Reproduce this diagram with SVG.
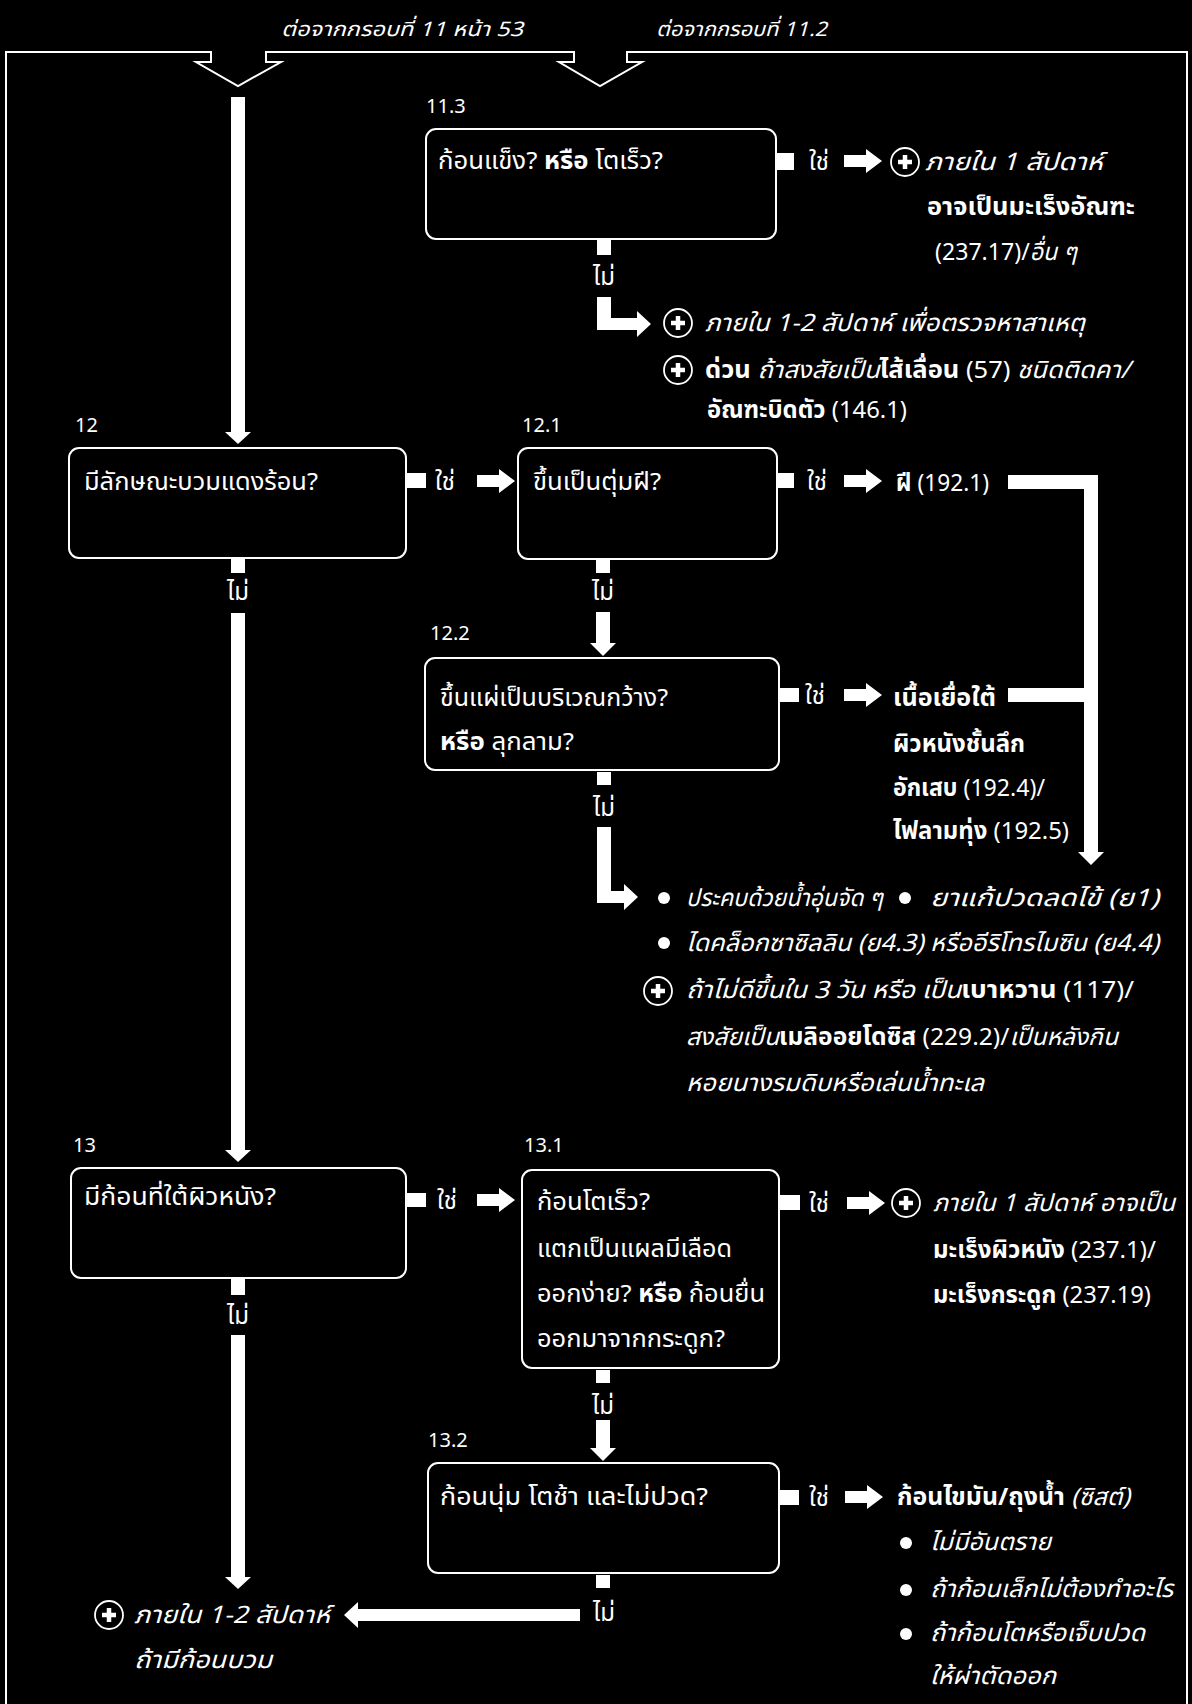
<svg xmlns="http://www.w3.org/2000/svg" xmlns:xlink="http://www.w3.org/1999/xlink" width="1192" height="1704" viewBox="0 0 1192 1704">
  <style>
    text { fill: #fff; font-family: "Noto Sans Thai", "Noto Sans", "DejaVu Sans", sans-serif; font-size: 24px; }
    .hdr { font-size: 20px; font-style: italic; }
    .num { font-size: 20px; }
    .q { font-size: 24px; }
    .o { font-size: 24px; }
    .lbl { font-size: 24px; }
    .i { font-style: italic; }
    .b { font-weight: bold; }
    .no { font-size: 24px; text-anchor: middle; }
    .box { fill: #000; stroke: #fff; stroke-width: 2; }
    .wire { fill: #fff; stroke: none; }
    .frame { fill: none; stroke: #fff; stroke-width: 2; }
  </style>
  <defs>
    <!-- circled plus used for "see a health worker" notes -->
    <g id="cplus">
      <circle r="14" fill="none" stroke="#fff" stroke-width="1.8"/>
      <path d="M-7,0 H7 M0,-7 V7" stroke="#fff" stroke-width="4.5"/>
    </g>
    <!-- short right-pointing block arrow, origin at shaft start / centre line -->
    <path id="rarrow" d="M0,-6 H22 V-12 L38,0 L22,12 V6 H0 Z"/>
  </defs>

  <rect width="1192" height="1704" fill="#000"/>

  <!-- outer frame with the two entry notches -->
  <path class="frame" d="M6,1704 V52 H211 V62 H196 L238,86 L281,62 H266 V52 H574 V62 H559 L600,86 L642,62 H627 V52 H1187 V1704"/>
  <text class="hdr" x="281" y="36" textLength="242" lengthAdjust="spacingAndGlyphs">ต่อจากกรอบที่ 11 หน้า 53</text>
  <text class="hdr" x="656" y="36" textLength="171" lengthAdjust="spacingAndGlyphs">ต่อจากกรอบที่ 11.2</text>

  <!-- connectors -->
  <g id="connectors" class="wire">
    <!-- left column -->
    <rect x="231" y="97" width="14" height="335"/>
    <path d="M225,432 H251 L238,444 Z"/>
    <rect x="231" y="558" width="14" height="15"/>
    <rect x="231" y="613" width="14" height="537"/>
    <path d="M225,1150 H251 L238,1162 Z"/>
    <rect x="231" y="1278" width="14" height="17"/>
    <rect x="231" y="1335" width="14" height="242"/>
    <path d="M225,1577 H251 L238,1589 Z"/>

    <!-- 11.3 -->
    <rect x="776" y="153" width="18" height="17"/>
    <use href="#rarrow" x="844" y="161"/>
    <rect x="597" y="240" width="14" height="15"/>
    <path d="M597,297 H611 V318 H637 V311 L651,324 L637,337 V330 H597 Z"/>

    <!-- 12 -->
    <rect x="406" y="473" width="20" height="15"/>
    <use href="#rarrow" x="477" y="481"/>

    <!-- 12.1 -->
    <rect x="777" y="473" width="17" height="15"/>
    <use href="#rarrow" x="844" y="481"/>
    <rect x="596" y="560" width="14" height="13"/>
    <rect x="596" y="612" width="14" height="31"/>
    <path d="M590,643 H616 L603,656 Z"/>
    <!-- collector line on the right -->
    <path d="M1008,475 H1098 V852 H1104 L1091,865 L1078,852 H1084 V489 H1008 Z"/>
    <rect x="1008" y="688" width="80" height="14"/>

    <!-- 12.2 -->
    <rect x="779" y="688" width="20" height="14"/>
    <use href="#rarrow" x="844" y="695"/>
    <rect x="597" y="772" width="14" height="13"/>
    <path d="M597,827 H611 V891 H624 V884 L638,897 L624,910 V903 H597 Z"/>

    <!-- 13 -->
    <rect x="406" y="1193" width="20" height="14"/>
    <use href="#rarrow" x="477" y="1200"/>

    <!-- 13.1 -->
    <rect x="779" y="1195" width="21" height="15"/>
    <use href="#rarrow" x="847" y="1203"/>
    <rect x="596" y="1370" width="14" height="13"/>
    <rect x="596" y="1420" width="14" height="28"/>
    <path d="M590,1448 H616 L603,1461 Z"/>

    <!-- 13.2 -->
    <rect x="779" y="1490" width="20" height="15"/>
    <use href="#rarrow" x="845" y="1497"/>
    <rect x="596" y="1575" width="14" height="13"/>
    <path d="M580,1609 H358 V1602 L344,1615 L358,1628 V1621 H580 Z"/>
  </g>

  <!-- connector labels -->
  <g id="labels">
    <text class="lbl" x="809" y="170">ใช่</text>
    <text class="lbl" x="435" y="490">ใช่</text>
    <text class="lbl" x="807" y="490">ใช่</text>
    <text class="lbl" x="805" y="704">ใช่</text>
    <text class="lbl" x="437" y="1209">ใช่</text>
    <text class="lbl" x="809" y="1212">ใช่</text>
    <text class="lbl" x="809" y="1506">ใช่</text>
    <text class="no" x="604" y="285">ไม่</text>
    <text class="no" x="238" y="600">ไม่</text>
    <text class="no" x="603" y="600">ไม่</text>
    <text class="no" x="604" y="816">ไม่</text>
    <text class="no" x="238" y="1324">ไม่</text>
    <text class="no" x="603" y="1414">ไม่</text>
    <text class="no" x="604" y="1621">ไม่</text>
  </g>

  <!-- 11.3 -->
  <g id="n11-3">
    <text class="num" x="426" y="113">11.3</text>
    <rect class="box" x="426" y="129" width="350" height="110" rx="10"/>
    <text class="q" x="438" y="169" textLength="225" lengthAdjust="spacingAndGlyphs">ก้อนแข็ง? <tspan class="b">หรือ</tspan> โตเร็ว?</text>
  </g>
  <g id="r11-3-yes">
    <use href="#cplus" x="905" y="162"/>
    <text class="o i" x="925" y="170" textLength="178" lengthAdjust="spacingAndGlyphs">ภายใน 1 สัปดาห์</text>
    <text class="o b" x="927" y="215" textLength="208" lengthAdjust="spacingAndGlyphs">อาจเป็นมะเร็งอัณฑะ</text>
    <text class="o" x="935" y="260" textLength="142" lengthAdjust="spacingAndGlyphs">(237.17)/<tspan class="i">อื่น ๆ</tspan></text>
  </g>
  <g id="r11-3-no">
    <use href="#cplus" x="678" y="323"/>
    <text class="o i" x="705" y="331" textLength="380" lengthAdjust="spacingAndGlyphs">ภายใน 1-2 สัปดาห์ เพื่อตรวจหาสาเหตุ</text>
    <use href="#cplus" x="678" y="370"/>
    <text class="o" x="705" y="378" textLength="425" lengthAdjust="spacingAndGlyphs"><tspan class="b">ด่วน</tspan> <tspan class="i">ถ้าสงสัยเป็น</tspan><tspan class="b">ไส้เลื่อน</tspan> (57) <tspan class="i">ชนิดติดคา/</tspan></text>
    <text class="o" x="707" y="418" textLength="200" lengthAdjust="spacingAndGlyphs"><tspan class="b">อัณฑะบิดตัว</tspan> (146.1)</text>
  </g>

  <!-- 12 -->
  <g id="n12">
    <text class="num" x="75" y="432">12</text>
    <rect class="box" x="69" y="448" width="337" height="110" rx="10"/>
    <text class="q" x="84" y="490" textLength="234" lengthAdjust="spacingAndGlyphs">มีลักษณะบวมแดงร้อน?</text>
  </g>

  <!-- 12.1 -->
  <g id="n12-1">
    <text class="num" x="522" y="432">12.1</text>
    <rect class="box" x="518" y="448" width="259" height="111" rx="10"/>
    <text class="q" x="533" y="490" textLength="128" lengthAdjust="spacingAndGlyphs">ขึ้นเป็นตุ่มฝี?</text>
  </g>
  <g id="r12-1-yes">
    <text class="o" x="896" y="491" textLength="93" lengthAdjust="spacingAndGlyphs"><tspan class="b">ฝี</tspan> (192.1)</text>
  </g>

  <!-- 12.2 -->
  <g id="n12-2">
    <text class="num" x="430" y="640">12.2</text>
    <rect class="box" x="425" y="658" width="354" height="112" rx="10"/>
    <text class="q" x="440" y="706" textLength="228" lengthAdjust="spacingAndGlyphs">ขึ้นแผ่เป็นบริเวณกว้าง?</text>
    <text class="q" x="440" y="750" textLength="134" lengthAdjust="spacingAndGlyphs"><tspan class="b">หรือ</tspan> ลุกลาม?</text>
  </g>
  <g id="r12-2-yes">
    <text class="o b" x="893" y="706" textLength="103" lengthAdjust="spacingAndGlyphs">เนื้อเยื่อใต้</text>
    <text class="o b" x="893" y="752" textLength="132" lengthAdjust="spacingAndGlyphs">ผิวหนังชั้นลึก</text>
    <text class="o" x="893" y="796" textLength="152" lengthAdjust="spacingAndGlyphs"><tspan class="b">อักเสบ</tspan> (192.4)/</text>
    <text class="o" x="893" y="839" textLength="176" lengthAdjust="spacingAndGlyphs"><tspan class="b">ไฟลามทุ่ง</tspan> (192.5)</text>
  </g>
  <g id="r12-2-no">
    <circle cx="664" cy="898" r="6" fill="#fff"/>
    <text class="o i" x="686" y="906" textLength="197" lengthAdjust="spacingAndGlyphs">ประคบด้วยน้ำอุ่นจัด ๆ</text>
    <circle cx="905" cy="898" r="6" fill="#fff"/>
    <text class="o i" x="930" y="906" textLength="229" lengthAdjust="spacingAndGlyphs">ยาแก้ปวดลดไข้ (ย1)</text>
    <circle cx="664" cy="943" r="6" fill="#fff"/>
    <text class="o i" x="686" y="951" textLength="473" lengthAdjust="spacingAndGlyphs">ไดคล็อกซาซิลลิน (ย4.3) หรืออีริโทรไมซิน (ย4.4)</text>
    <use href="#cplus" x="658" y="991"/>
    <text class="o" x="686" y="998" textLength="448" lengthAdjust="spacingAndGlyphs"><tspan class="i">ถ้าไม่ดีขึ้นใน 3 วัน หรือ เป็น</tspan><tspan class="b">เบาหวาน</tspan> (117)/</text>
    <text class="o" x="686" y="1045" textLength="432" lengthAdjust="spacingAndGlyphs"><tspan class="i">สงสัยเป็น</tspan><tspan class="b">เมลิออยโดซิส</tspan> (229.2)/<tspan class="i">เป็นหลังกิน</tspan></text>
    <text class="o i" x="686" y="1091" textLength="298" lengthAdjust="spacingAndGlyphs">หอยนางรมดิบหรือเล่นน้ำทะเล</text>
  </g>

  <!-- 13 -->
  <g id="n13">
    <text class="num" x="73" y="1152">13</text>
    <rect class="box" x="71" y="1168" width="335" height="110" rx="10"/>
    <text class="q" x="84" y="1205" textLength="192" lengthAdjust="spacingAndGlyphs">มีก้อนที่ใต้ผิวหนัง?</text>
  </g>

  <!-- 13.1 -->
  <g id="n13-1">
    <text class="num" x="524" y="1152">13.1</text>
    <rect class="box" x="522" y="1170" width="257" height="198" rx="10"/>
    <text class="q" x="537" y="1210" textLength="113" lengthAdjust="spacingAndGlyphs">ก้อนโตเร็ว?</text>
    <text class="q" x="537" y="1257" textLength="195" lengthAdjust="spacingAndGlyphs">แตกเป็นแผลมีเลือด</text>
    <text class="q" x="537" y="1302" textLength="228" lengthAdjust="spacingAndGlyphs">ออกง่าย? <tspan class="b">หรือ</tspan> ก้อนยื่น</text>
    <text class="q" x="537" y="1347" textLength="188" lengthAdjust="spacingAndGlyphs">ออกมาจากกระดูก?</text>
  </g>
  <g id="r13-1-yes">
    <use href="#cplus" x="906" y="1203"/>
    <text class="o i" x="933" y="1211" textLength="242" lengthAdjust="spacingAndGlyphs">ภายใน 1 สัปดาห์ อาจเป็น</text>
    <text class="o" x="933" y="1258" textLength="223" lengthAdjust="spacingAndGlyphs"><tspan class="b">มะเร็งผิวหนัง</tspan> (237.1)/</text>
    <text class="o" x="933" y="1303" textLength="218" lengthAdjust="spacingAndGlyphs"><tspan class="b">มะเร็งกระดูก</tspan> (237.19)</text>
  </g>

  <!-- 13.2 -->
  <g id="n13-2">
    <text class="num" x="428" y="1447">13.2</text>
    <rect class="box" x="428" y="1463" width="351" height="110" rx="10"/>
    <text class="q" x="440" y="1505" textLength="268" lengthAdjust="spacingAndGlyphs">ก้อนนุ่ม โตช้า และไม่ปวด?</text>
  </g>
  <g id="r13-2-yes">
    <text class="o" x="897" y="1505" textLength="233" lengthAdjust="spacingAndGlyphs"><tspan class="b">ก้อนไขมัน/ถุงน้ำ</tspan> <tspan class="i">(ซิสต์)</tspan></text>
    <circle cx="906" cy="1543" r="6" fill="#fff"/>
    <text class="o i" x="930" y="1550" textLength="121" lengthAdjust="spacingAndGlyphs">ไม่มีอันตราย</text>
    <circle cx="906" cy="1590" r="6" fill="#fff"/>
    <text class="o i" x="930" y="1597" textLength="243" lengthAdjust="spacingAndGlyphs">ถ้าก้อนเล็กไม่ต้องทำอะไร</text>
    <circle cx="906" cy="1634" r="6" fill="#fff"/>
    <text class="o i" x="930" y="1641" textLength="215" lengthAdjust="spacingAndGlyphs">ถ้าก้อนโตหรือเจ็บปวด</text>
    <text class="o i" x="930" y="1684" textLength="126" lengthAdjust="spacingAndGlyphs">ให้ผ่าตัดออก</text>
  </g>
  <g id="r-end">
    <use href="#cplus" x="109" y="1615"/>
    <text class="o i" x="134" y="1623" textLength="196" lengthAdjust="spacingAndGlyphs">ภายใน 1-2 สัปดาห์</text>
    <text class="o i" x="134" y="1668" textLength="138" lengthAdjust="spacingAndGlyphs">ถ้ามีก้อนบวม</text>
  </g>
</svg>
